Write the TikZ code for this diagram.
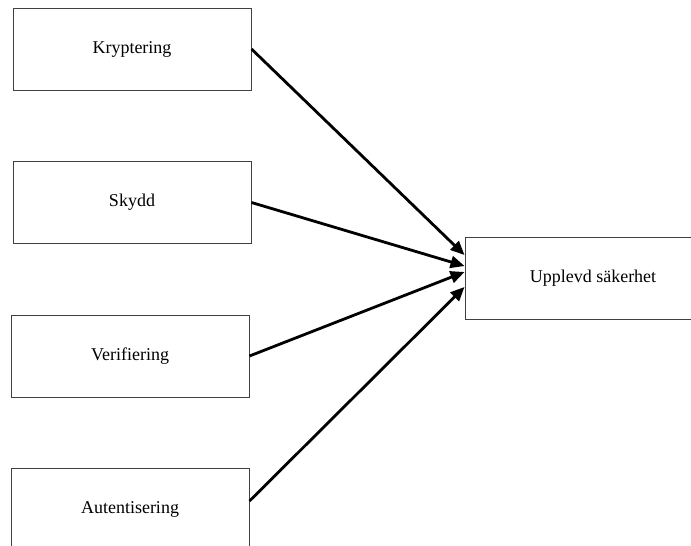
\documentclass[tikz,border=0pt]{standalone}
\usepackage{fontspec}
\setmainfont{Liberation Serif}
\usetikzlibrary{arrows.meta,calc}

\tikzset{
    factor/.style = {draw = black!75, line width = 1pt, rectangle, minimum width = 238pt, minimum height = 82pt, font = \fontsize{18}{20}\selectfont},
    effect/.style = {draw, line width = 2.8pt, -{Triangle[length = 14pt, width = 12pt]}}
}

\begin{document}
\begin{tikzpicture}[x = 1pt, y = -1pt]
                \useasboundingbox (0,0) rectangle (691,546);
                % factors
                \node[factor](kryp)at(132,49){Kryptering};
                \node[factor](skydd)at(132,202.5){Skydd};
                \node[factor](verif)at(130,356){Verifiering};
                \node[factor](autent)at(130,509){Autentisering};
                % outcome
                \node[factor, minimum width = 256pt](upplevd)at(593,278){Upplevd säkerhet};
                % arrows
                \path[effect](kryp.east)to([yshift = 23pt]upplevd.west);
                \path[effect](skydd.east)to([yshift = 12pt]upplevd.west);
                \path[effect](verif.east)to([yshift = 6pt]upplevd.west);
                \path[effect]([yshift = 8pt]autent.east)to([yshift = -9pt]upplevd.west);
            \end{tikzpicture}
\end{document}
